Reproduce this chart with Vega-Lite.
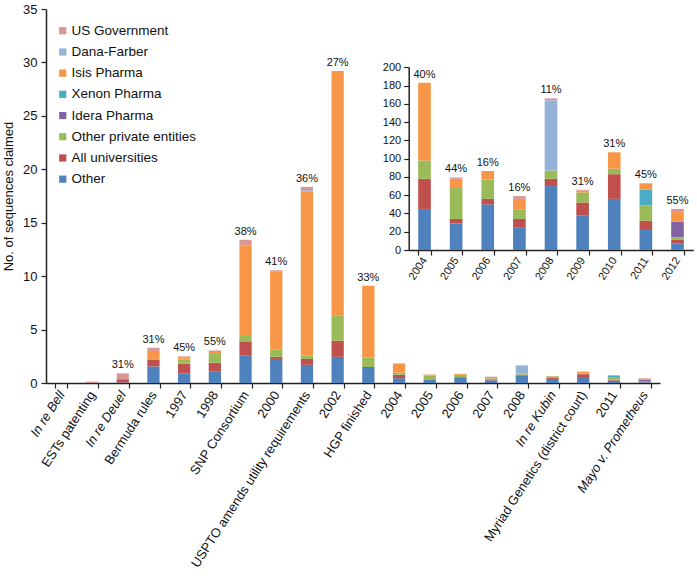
{
  "$schema": "https://vega.github.io/schema/vega-lite/v6.json",
  "width": 614,
  "height": 374,
  "autosize": {"type": "none"},
  "padding": {"left": 46, "top": 9, "right": 37, "bottom": 196},
  "config": {
    "font": "Liberation Sans",
    "view": {"stroke": null},
    "axis": {"domainColor": "#222", "tickColor": "#222", "labelColor": "#111", "titleColor": "#111", "grid": false, "domainWidth": 1.5, "tickWidth": 1.2}
  },
  "datasets": {
    "maindata": [
      {"cat": "ESTs patenting", "src": "All universities", "v": 0.03},
      {"cat": "ESTs patenting", "src": "US Government", "v": 0.1},
      {"cat": "In re Deuel", "src": "Other", "v": 0.05},
      {"cat": "In re Deuel", "src": "All universities", "v": 0.3},
      {"cat": "In re Deuel", "src": "US Government", "v": 0.55},
      {"cat": "Bermuda rules", "src": "Other", "v": 1.55},
      {"cat": "Bermuda rules", "src": "All universities", "v": 0.65},
      {"cat": "Bermuda rules", "src": "Other private entities", "v": 0.05},
      {"cat": "Bermuda rules", "src": "Isis Pharma", "v": 0.75},
      {"cat": "Bermuda rules", "src": "US Government", "v": 0.3},
      {"cat": "1997", "src": "Other", "v": 0.9},
      {"cat": "1997", "src": "All universities", "v": 0.9},
      {"cat": "1997", "src": "Other private entities", "v": 0.4},
      {"cat": "1997", "src": "Isis Pharma", "v": 0.2},
      {"cat": "1997", "src": "US Government", "v": 0.1},
      {"cat": "1998", "src": "Other", "v": 1.1},
      {"cat": "1998", "src": "All universities", "v": 0.8},
      {"cat": "1998", "src": "Other private entities", "v": 0.9},
      {"cat": "1998", "src": "Isis Pharma", "v": 0.2},
      {"cat": "1998", "src": "US Government", "v": 0.05},
      {"cat": "SNP Consortium", "src": "Other", "v": 2.6},
      {"cat": "SNP Consortium", "src": "All universities", "v": 1.3},
      {"cat": "SNP Consortium", "src": "Other private entities", "v": 0.5},
      {"cat": "SNP Consortium", "src": "Isis Pharma", "v": 8.5},
      {"cat": "SNP Consortium", "src": "US Government", "v": 0.5},
      {"cat": "2000", "src": "Other", "v": 2.25},
      {"cat": "2000", "src": "All universities", "v": 0.2},
      {"cat": "2000", "src": "Other private entities", "v": 0.7},
      {"cat": "2000", "src": "Isis Pharma", "v": 7.3},
      {"cat": "2000", "src": "US Government", "v": 0.1},
      {"cat": "USPTO amends utility requirements", "src": "Other", "v": 1.7},
      {"cat": "USPTO amends utility requirements", "src": "All universities", "v": 0.55},
      {"cat": "USPTO amends utility requirements", "src": "Other private entities", "v": 0.3},
      {"cat": "USPTO amends utility requirements", "src": "Isis Pharma", "v": 15.4},
      {"cat": "USPTO amends utility requirements", "src": "Dana-Farber", "v": 0.1},
      {"cat": "USPTO amends utility requirements", "src": "US Government", "v": 0.3},
      {"cat": "2002", "src": "Other", "v": 2.45},
      {"cat": "2002", "src": "All universities", "v": 1.5},
      {"cat": "2002", "src": "Other private entities", "v": 2.35},
      {"cat": "2002", "src": "Isis Pharma", "v": 22.9},
      {"cat": "HGP finished", "src": "Other", "v": 1.4},
      {"cat": "HGP finished", "src": "All universities", "v": 0.1},
      {"cat": "HGP finished", "src": "Other private entities", "v": 0.9},
      {"cat": "HGP finished", "src": "Isis Pharma", "v": 6.7},
      {"cat": "2004", "src": "Other", "v": 0.45},
      {"cat": "2004", "src": "All universities", "v": 0.33},
      {"cat": "2004", "src": "Other private entities", "v": 0.2},
      {"cat": "2004", "src": "Isis Pharma", "v": 0.85},
      {"cat": "2005", "src": "Other", "v": 0.29},
      {"cat": "2005", "src": "All universities", "v": 0.05},
      {"cat": "2005", "src": "Other private entities", "v": 0.35},
      {"cat": "2005", "src": "Isis Pharma", "v": 0.09},
      {"cat": "2005", "src": "US Government", "v": 0.015},
      {"cat": "2006", "src": "Other", "v": 0.5},
      {"cat": "2006", "src": "All universities", "v": 0.06},
      {"cat": "2006", "src": "Other private entities", "v": 0.21},
      {"cat": "2006", "src": "Isis Pharma", "v": 0.095},
      {"cat": "2007", "src": "Other", "v": 0.25},
      {"cat": "2007", "src": "All universities", "v": 0.09},
      {"cat": "2007", "src": "Other private entities", "v": 0.1},
      {"cat": "2007", "src": "Isis Pharma", "v": 0.12},
      {"cat": "2007", "src": "US Government", "v": 0.03},
      {"cat": "2008", "src": "Other", "v": 0.7},
      {"cat": "2008", "src": "All universities", "v": 0.08},
      {"cat": "2008", "src": "Other private entities", "v": 0.09},
      {"cat": "2008", "src": "Dana-Farber", "v": 0.77},
      {"cat": "2008", "src": "US Government", "v": 0.02},
      {"cat": "In re Kubin", "src": "Other", "v": 0.38},
      {"cat": "In re Kubin", "src": "All universities", "v": 0.14},
      {"cat": "In re Kubin", "src": "Other private entities", "v": 0.11},
      {"cat": "In re Kubin", "src": "Isis Pharma", "v": 0.02},
      {"cat": "In re Kubin", "src": "US Government", "v": 0.01},
      {"cat": "Myriad Genetics (district court)", "src": "Other", "v": 0.56},
      {"cat": "Myriad Genetics (district court)", "src": "All universities", "v": 0.27},
      {"cat": "Myriad Genetics (district court)", "src": "Other private entities", "v": 0.06},
      {"cat": "Myriad Genetics (district court)", "src": "Isis Pharma", "v": 0.18},
      {"cat": "2011", "src": "Other", "v": 0.23},
      {"cat": "2011", "src": "All universities", "v": 0.09},
      {"cat": "2011", "src": "Other private entities", "v": 0.17},
      {"cat": "2011", "src": "Xenon Pharma", "v": 0.17},
      {"cat": "2011", "src": "Isis Pharma", "v": 0.07},
      {"cat": "Mayo v. Prometheus", "src": "Other", "v": 0.07},
      {"cat": "Mayo v. Prometheus", "src": "All universities", "v": 0.04},
      {"cat": "Mayo v. Prometheus", "src": "Other private entities", "v": 0.03},
      {"cat": "Mayo v. Prometheus", "src": "Idera Pharma", "v": 0.17},
      {"cat": "Mayo v. Prometheus", "src": "Isis Pharma", "v": 0.105},
      {"cat": "Mayo v. Prometheus", "src": "US Government", "v": 0.035}
    ],
    "mainlabels": [
      {"cat": "In re Deuel", "total": 0.9, "pct": "31%"},
      {"cat": "Bermuda rules", "total": 3.3, "pct": "31%"},
      {"cat": "1997", "total": 2.5, "pct": "45%"},
      {"cat": "1998", "total": 3.05, "pct": "55%"},
      {"cat": "SNP Consortium", "total": 13.4, "pct": "38%"},
      {"cat": "2000", "total": 10.55, "pct": "41%"},
      {"cat": "USPTO amends utility requirements", "total": 18.35, "pct": "36%"},
      {"cat": "2002", "total": 29.2, "pct": "27%"},
      {"cat": "HGP finished", "total": 9.1, "pct": "33%"}
    ],
    "insetdata": [
      {"year": "2004", "src": "Other", "v": 45},
      {"year": "2004", "src": "All universities", "v": 33},
      {"year": "2004", "src": "Other private entities", "v": 20},
      {"year": "2004", "src": "Isis Pharma", "v": 85},
      {"year": "2005", "src": "Other", "v": 29},
      {"year": "2005", "src": "All universities", "v": 5},
      {"year": "2005", "src": "Other private entities", "v": 35},
      {"year": "2005", "src": "Isis Pharma", "v": 9},
      {"year": "2005", "src": "US Government", "v": 1.5},
      {"year": "2006", "src": "Other", "v": 50},
      {"year": "2006", "src": "All universities", "v": 6},
      {"year": "2006", "src": "Other private entities", "v": 21},
      {"year": "2006", "src": "Isis Pharma", "v": 9.5},
      {"year": "2007", "src": "Other", "v": 25},
      {"year": "2007", "src": "All universities", "v": 9},
      {"year": "2007", "src": "Other private entities", "v": 10},
      {"year": "2007", "src": "Isis Pharma", "v": 12},
      {"year": "2007", "src": "US Government", "v": 3},
      {"year": "2008", "src": "Other", "v": 70},
      {"year": "2008", "src": "All universities", "v": 8},
      {"year": "2008", "src": "Other private entities", "v": 9},
      {"year": "2008", "src": "Dana-Farber", "v": 77},
      {"year": "2008", "src": "US Government", "v": 2},
      {"year": "2009", "src": "Other", "v": 38},
      {"year": "2009", "src": "All universities", "v": 14},
      {"year": "2009", "src": "Other private entities", "v": 11},
      {"year": "2009", "src": "Isis Pharma", "v": 2},
      {"year": "2009", "src": "US Government", "v": 1},
      {"year": "2010", "src": "Other", "v": 56},
      {"year": "2010", "src": "All universities", "v": 27},
      {"year": "2010", "src": "Other private entities", "v": 6},
      {"year": "2010", "src": "Isis Pharma", "v": 18},
      {"year": "2011", "src": "Other", "v": 23},
      {"year": "2011", "src": "All universities", "v": 9},
      {"year": "2011", "src": "Other private entities", "v": 17},
      {"year": "2011", "src": "Xenon Pharma", "v": 17},
      {"year": "2011", "src": "Isis Pharma", "v": 7},
      {"year": "2012", "src": "Other", "v": 7},
      {"year": "2012", "src": "All universities", "v": 4},
      {"year": "2012", "src": "Other private entities", "v": 3},
      {"year": "2012", "src": "Idera Pharma", "v": 17},
      {"year": "2012", "src": "Isis Pharma", "v": 10.5},
      {"year": "2012", "src": "US Government", "v": 3.5}
    ],
    "insetlabels": [
      {"year": "2004", "total": 183, "pct": "40%"},
      {"year": "2005", "total": 79.5, "pct": "44%"},
      {"year": "2006", "total": 86.5, "pct": "16%"},
      {"year": "2007", "total": 59, "pct": "16%"},
      {"year": "2008", "total": 166, "pct": "11%"},
      {"year": "2009", "total": 66, "pct": "31%"},
      {"year": "2010", "total": 107, "pct": "31%"},
      {"year": "2011", "total": 73, "pct": "45%"},
      {"year": "2012", "total": 45, "pct": "55%"}
    ]
  },
  "layer": [
    {
      "layer": [
        {
          "data": {"name": "maindata"},
          "transform": [{"calculate": "indexof('Other|All universities|Other private entities|Idera Pharma|Xenon Pharma|Isis Pharma|Dana-Farber|US Government', datum.src)", "as": "ord"}],
          "mark": {"type": "bar"},
          "encoding": {
            "x": {
              "field": "cat", "type": "nominal", "title": null,
              "scale": {"domain": ["In re Bell", "ESTs patenting", "In re Deuel", "Bermuda rules", "1997", "1998", "SNP Consortium", "2000", "USPTO amends utility requirements", "2002", "HGP finished", "2004", "2005", "2006", "2007", "2008", "In re Kubin", "Myriad Genetics (district court)", "2011", "Mayo v. Prometheus"], "paddingInner": 0.6, "paddingOuter": 0.3},
              "axis": {"labelAngle": -57, "tickBand": "extent", "tickSize": 5, "labelFontSize": 13, "labelPadding": 4, "labelLimit": 400,
                "labelFontStyle": {"condition": {"test": "indexof(datum.label, 'In re') === 0 || datum.label === 'Mayo v. Prometheus'", "value": "italic"}, "value": "normal"}}
            },
            "y": {
              "field": "v", "type": "quantitative", "stack": "zero", "title": "No. of sequences claimed",
              "scale": {"domain": [0, 35], "nice": false},
              "axis": {"values": [0, 5, 10, 15, 20, 25, 30, 35], "labelOverlap": false, "tickSize": 5, "labelFontSize": 13, "labelPadding": 4, "titleFontSize": 13, "titleFontWeight": "normal", "titlePadding": 7}
            },
            "color": {
              "field": "src", "type": "nominal",
              "scale": {"domain": ["US Government", "Dana-Farber", "Isis Pharma", "Xenon Pharma", "Idera Pharma", "Other private entities", "All universities", "Other"], "range": ["#D99694", "#95B3D7", "#F79646", "#4BACC6", "#8064A2", "#9BBB59", "#C0504D", "#4F81BD"]},
              "legend": {"orient": "none", "legendX": 10, "legendY": 15, "title": null, "symbolType": "square", "symbolSize": 52, "symbolStrokeWidth": 0, "labelFontSize": 13.5, "labelColor": "#111", "rowPadding": 6.2, "labelOffset": 2, "padding": 0}
            },
            "order": {"field": "ord", "type": "quantitative"}
          }
        },
        {
          "data": {"name": "mainlabels"},
          "mark": {"type": "text", "baseline": "bottom", "dy": -3, "fontSize": 11, "color": "#111"},
          "encoding": {
            "x": {"field": "cat", "type": "nominal", "title": null},
            "y": {"field": "total", "type": "quantitative", "title": "No. of sequences claimed",
              "axis": {"values": [0, 5, 10, 15, 20, 25, 30, 35], "labelOverlap": false, "tickSize": 5, "labelFontSize": 13, "labelPadding": 4, "titleFontSize": 13, "titleFontWeight": "normal", "titlePadding": 7}},
            "text": {"field": "pct"}
          }
        }
      ]
    },
    {
      "layer": [
        {
          "data": {"name": "insetdata"},
          "transform": [{"calculate": "indexof('Other|All universities|Other private entities|Idera Pharma|Xenon Pharma|Isis Pharma|Dana-Farber|US Government', datum.src)", "as": "ord"}],
          "mark": {"type": "bar"},
          "encoding": {
            "x": {
              "field": "year", "type": "nominal", "title": null,
              "scale": {"domain": ["2004", "2005", "2006", "2007", "2008", "2009", "2010", "2011", "2012"], "range": [362.7, 647.3], "paddingInner": 0.6, "paddingOuter": 0.3},
              "axis": {"orient": "bottom", "offset": -133, "labelAngle": -57, "tickBand": "extent", "tickSize": 5, "labelFontSize": 11, "labelPadding": 3}
            },
            "y": {
              "field": "v", "type": "quantitative", "stack": "zero", "title": null,
              "scale": {"domain": [0, 200], "nice": false, "range": [241, 58.3]},
              "axis": {"orient": "left", "offset": -362.7, "values": [0, 20, 40, 60, 80, 100, 120, 140, 160, 180, 200], "tickCount": 11, "labelOverlap": false, "tickSize": 5, "labelFontSize": 11, "labelPadding": 3}
            },
            "color": {
              "field": "src", "type": "nominal",
              "scale": {"domain": ["US Government", "Dana-Farber", "Isis Pharma", "Xenon Pharma", "Idera Pharma", "Other private entities", "All universities", "Other"], "range": ["#D99694", "#95B3D7", "#F79646", "#4BACC6", "#8064A2", "#9BBB59", "#C0504D", "#4F81BD"]}
            },
            "order": {"field": "ord", "type": "quantitative"}
          }
        },
        {
          "data": {"name": "insetlabels"},
          "mark": {"type": "text", "baseline": "bottom", "dy": -3, "fontSize": 11, "color": "#111"},
          "encoding": {
            "x": {"field": "year", "type": "nominal", "title": null,
              "axis": {"orient": "bottom", "offset": -133, "labelAngle": -57, "tickBand": "extent", "tickSize": 5, "labelFontSize": 11, "labelPadding": 3}},
            "y": {"field": "total", "type": "quantitative", "title": null,
              "axis": {"orient": "left", "offset": -362.7, "values": [0, 20, 40, 60, 80, 100, 120, 140, 160, 180, 200], "tickCount": 11, "labelOverlap": false, "tickSize": 5, "labelFontSize": 11, "labelPadding": 3}},
            "text": {"field": "pct"}
          }
        }
      ]
    }
  ],
  "resolve": {"scale": {"x": "independent", "y": "independent"}}
}
